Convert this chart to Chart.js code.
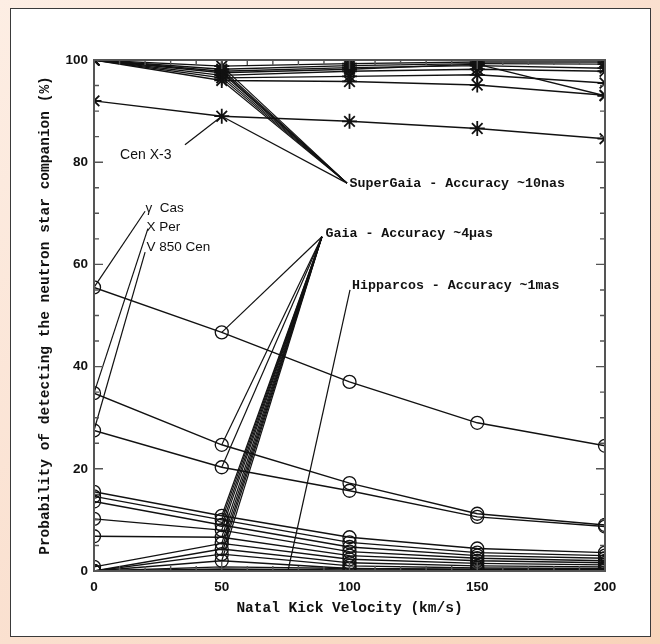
<!DOCTYPE html>
<html lang="en">
<head>
    <meta charset="UTF-8">
    <title>Neutron star companion detection</title>
    <style>
        html, body {
            margin: 0;
            width: 660px;
            height: 644px;
            overflow: hidden;
            background: linear-gradient(135deg, #fdeee4 0%, #fae0cf 50%, #f8d3b9 100%);
        }
        .panel {
            position: absolute;
            left: 10px;
            top: 8px;
            width: 639px;
            height: 627px;
            background: #fff;
            border: 1px solid #3a3a3a;
        }
        canvas {
            position: absolute;
            left: 0;
            top: 0;
        }
    </style>
</head>
<body>
    <div class="panel"></div>
    <canvas id="chart" width="660" height="644"></canvas>
    <script src="https://cdn.jsdelivr.net/npm/chart.js"></script>
    <script>
        // natal kick velocities (km/s)
        const velocities = [0, 50, 100, 150, 200];

        // SuperGaia curves (asterisks), probability in %
        const superGaia1 = [100, 98.8, 99.3, 99.6, 99.6];
        const superGaia2 = [100, 98.2, 98.9, 99.3, 99.2];
        const superGaia3 = [100, 97.8, 98.5, 98.9, 98.4];
        const superGaia4 = [100, 97.5, 98.2, 99.2, 93.0];
        const superGaia5 = [100, 97.0, 97.8, 98.2, 97.8];
        const superGaia6 = [100, 96.5, 96.8, 97.1, 95.5];
        const superGaia7 = [100, 96.0, 95.8, 95.1, 93.1];
        const cenX3 = [92.0, 89.0, 88.0, 86.6, 84.6];

        // Gaia curves (circles)
        const gaia1 = [55.5, 46.7, 37.0, 29.0, 24.5];
        const gaia2 = [34.8, 24.7, 17.2, 11.2, 9.0];
        const gaia3 = [27.5, 20.3, 15.7, 10.6, 8.7];
        const gaia4 = [15.5, 10.8, 6.6, 4.4, 3.6];
        const gaia5 = [14.6, 10.0, 5.6, 3.6, 3.0];
        const gaia6 = [13.6, 9.0, 4.7, 3.0, 2.5];
        const gaia7 = [10.2, 8.0, 3.8, 2.5, 2.0];
        const gaia8 = [6.8, 6.6, 3.0, 2.0, 1.6];
        const gaia9 = [0.8, 5.4, 2.3, 1.5, 1.2];
        const gaia10 = [0, 4.3, 1.6, 1.0, 0.8];
        const gaia11 = [0, 3.3, 1.0, 0.6, 0.5];
        const gaia12 = [0, 2.0, 0.5, 0.3, 0.3];

        // Hipparcos curves (no markers, all near zero)
        const hipparcos1 = [0, 0.8, 0.5, 0.3, 0.2];
        const hipparcos2 = [0, 0.4, 0.2, 0.1, 0.1];
        const hipparcos3 = [0, 0.1, 0.05, 0.05, 0.0];

        // axis ticks
        const xTicks = [0, 50, 100, 150, 200];
        const yTicks = [0, 20, 40, 60, 80, 100];

        const superGaiaSeries = [superGaia1, superGaia2, superGaia3, superGaia4, superGaia5, superGaia6, superGaia7, cenX3];
        const gaiaSeries = [gaia1, gaia2, gaia3, gaia4, gaia5, gaia6, gaia7, gaia8, gaia9, gaia10, gaia11, gaia12];
        const hipparcosSeries = [hipparcos1, hipparcos2, hipparcos3];

        // text labels in data coordinates
        const notes = [
            { text: 'Cen X-3', x: 10.2, y: 81.4, font: '14px "Liberation Sans"' },
            { text: 'γ  Cas', x: 20.2, y: 71.0, font: '13.5px "Liberation Sans"' },
            { text: 'X Per', x: 20.5, y: 67.3, font: '13.5px "Liberation Sans"' },
            { text: 'V 850 Cen', x: 20.5, y: 63.4, font: '13.5px "Liberation Sans"' },
            { text: 'SuperGaia - Accuracy ~10nas', x: 100.0, y: 75.9, font: 'bold 13.3px "Liberation Mono"' },
            { text: 'Gaia - Accuracy ~4μas', x: 90.6, y: 66.1, font: 'bold 13.3px "Liberation Mono"' },
            { text: 'Hipparcos - Accuracy ~1mas', x: 101.0, y: 55.8, font: 'bold 13.3px "Liberation Mono"' }
        ];

        const toPoints = (values) => values.map((v, i) => ({ x: velocities[i], y: v }));

        const seriesDataset = (values, style) => ({
            data: toPoints(values),
            borderColor: '#111',
            borderWidth: 1.4,
            backgroundColor: 'rgba(0,0,0,0)',
            pointStyle: style,
            pointRadius: style ? (style === 'star' ? 7.5 : 6.5) : 0,
            pointBorderColor: '#111',
            pointBorderWidth: style === 'star' ? 1.8 : 1.3,
            tension: 0
        });

        const leader = (x0, y0, x1, y1) => ({
            data: [{ x: x0, y: y0 }, { x: x1, y: y1 }],
            borderColor: '#111',
            borderWidth: 1.2,
            pointRadius: 0,
            clip: false
        });

        const datasets = [];
        superGaiaSeries.forEach(s => datasets.push(seriesDataset(s, 'star')));
        gaiaSeries.forEach(s => datasets.push(seriesDataset(s, 'circle')));
        hipparcosSeries.forEach(s => datasets.push(seriesDataset(s, false)));

        // leader lines from the labels to the points they name
        datasets.push(leader(35.6, 83.4, velocities[1], cenX3[1]));
        superGaiaSeries.forEach(s => datasets.push(leader(99.0, 75.9, velocities[1], s[1])));
        gaiaSeries.forEach(s => datasets.push(leader(89.2, 65.4, velocities[1], s[1])));
        datasets.push(leader(100.2, 55.0, 75.9, 0));
        datasets.push(leader(20.0, 70.4, velocities[0], gaia1[0]));
        datasets.push(leader(21.1, 67.0, velocities[0], gaia2[0]));
        datasets.push(leader(20.0, 62.4, velocities[0], gaia3[0]));

        // inward ticks on all four sides, the frame, and the text labels
        const decor = {
            id: 'decor',
            afterDatasetsDraw(chart) {
                const { ctx, chartArea: a, scales: { x, y } } = chart;
                ctx.save();
                ctx.strokeStyle = '#555';
                ctx.lineWidth = 1.4;
                ctx.beginPath();
                for (let v = 0; v <= 200; v += 10) {
                    const px = x.getPixelForValue(v);
                    const len = v % 50 === 0 ? 9 : 5;
                    ctx.moveTo(px, a.bottom);
                    ctx.lineTo(px, a.bottom - len);
                    ctx.moveTo(px, a.top);
                    ctx.lineTo(px, a.top + len);
                }
                for (let v = 0; v <= 100; v += 5) {
                    const py = y.getPixelForValue(v);
                    const len = v % 20 === 0 ? 9 : 5;
                    ctx.moveTo(a.left, py);
                    ctx.lineTo(a.left + len, py);
                    ctx.moveTo(a.right, py);
                    ctx.lineTo(a.right - len, py);
                }
                ctx.stroke();
                ctx.lineWidth = 2;
                ctx.strokeRect(a.left, a.top, a.right - a.left, a.bottom - a.top);

                ctx.fillStyle = '#111';
                ctx.textAlign = 'left';
                ctx.textBaseline = 'middle';
                notes.forEach(n => {
                    ctx.font = n.font;
                    ctx.fillText(n.text, x.getPixelForValue(n.x), y.getPixelForValue(n.y));
                });
                ctx.restore();
            }
        };

        new Chart(document.getElementById('chart'), {
            type: 'line',
            data: { datasets: datasets },
            options: {
                responsive: false,
                animation: false,
                devicePixelRatio: 1,
                layout: {
                    padding: { top: 60, right: 55, left: 33, bottom: 25 }
                },
                plugins: {
                    legend: { display: false },
                    tooltip: { enabled: false }
                },
                scales: {
                    x: {
                        type: 'linear',
                        min: 0,
                        max: 200,
                        afterFit: (scale) => { scale.height = 48; },
                        afterBuildTicks: (scale) => { scale.ticks = xTicks.map(v => ({ value: v })); },
                        grid: { display: false, drawTicks: false },
                        border: { display: false },
                        ticks: {
                            padding: 8,
                            color: '#111',
                            maxRotation: 0,
                            font: { family: '"Liberation Sans"', size: 13.5, weight: 'bold' }
                        },
                        title: {
                            display: true,
                            text: 'Natal Kick Velocity (km/s)',
                            color: '#111',
                            padding: { top: 0, bottom: 2 },
                            font: { family: '"Liberation Mono"', size: 14.5, weight: 'bold' }
                        }
                    },
                    y: {
                        type: 'linear',
                        min: 0,
                        max: 100,
                        afterFit: (scale) => { scale.width = 61; },
                        afterBuildTicks: (scale) => { scale.ticks = yTicks.map(v => ({ value: v })); },
                        grid: { display: false, drawTicks: false },
                        border: { display: false },
                        ticks: {
                            padding: 6,
                            color: '#111',
                            font: { family: '"Liberation Sans"', size: 13.5, weight: 'bold' }
                        },
                        title: {
                            display: true,
                            text: 'Probability of detecting the neutron star companion (%)',
                            color: '#111',
                            padding: { top: 4, bottom: 0 },
                            font: { family: '"Liberation Mono"', size: 14.5, weight: 'bold' }
                        }
                    }
                }
            },
            plugins: [decor]
        });
    </script>
</body>
</html>
